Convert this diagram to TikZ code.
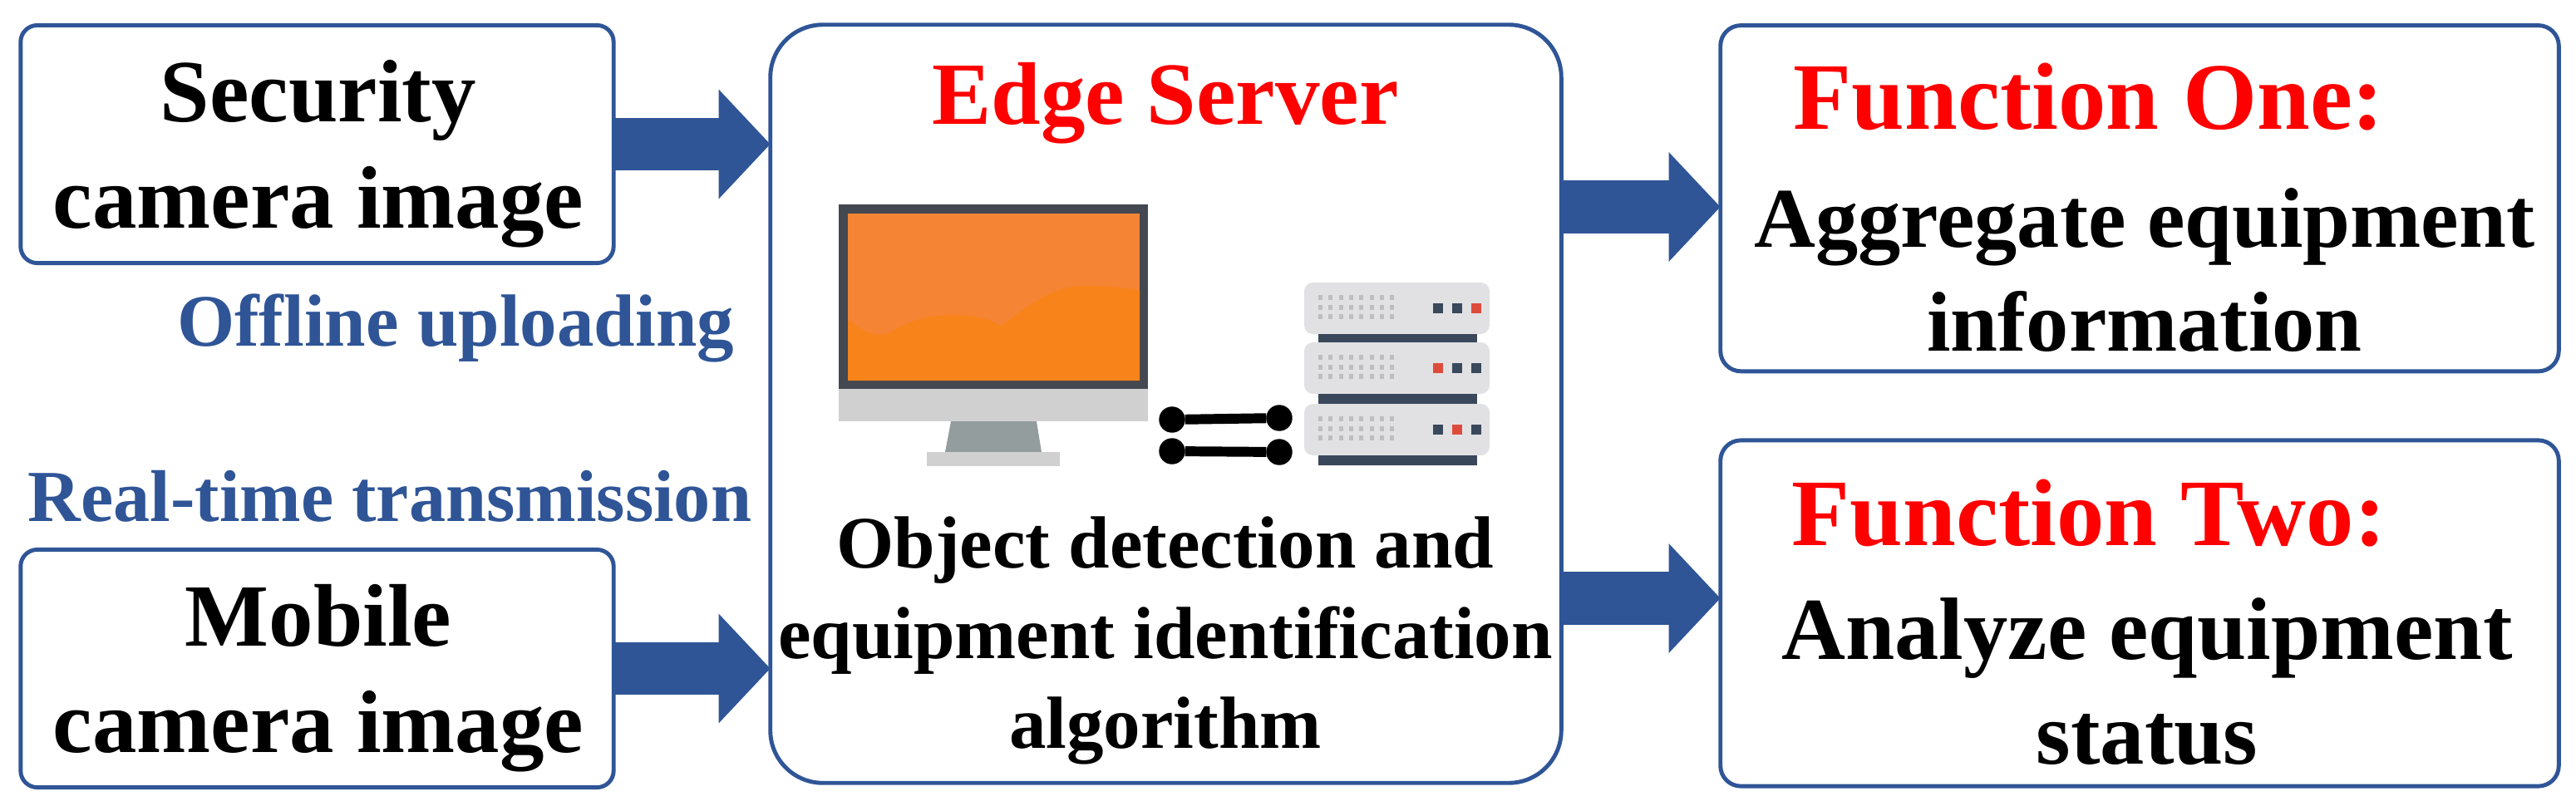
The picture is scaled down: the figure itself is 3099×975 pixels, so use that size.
\documentclass[tikz,border=0pt]{standalone}
\usepackage{fontspec}
\setmainfont{Liberation Serif}
\usetikzlibrary{arrows.meta, positioning, calc}
\definecolor{edgeblue}{RGB}{47,85,151}
\definecolor{titlered}{RGB}{255,0,0}
\definecolor{screenhi}{RGB}{245,133,53}
\definecolor{screenlo}{RGB}{247,131,26}
\definecolor{monframe}{RGB}{68,72,80}
\definecolor{monchin}{RGB}{208,208,208}
\definecolor{monstand}{RGB}{148,157,158}
\definecolor{rackbody}{RGB}{225,225,227}
\definecolor{rackbar}{RGB}{58,72,92}
\definecolor{rackdot}{RGB}{190,190,192}
\definecolor{rackled}{RGB}{222,75,60}
\newcommand{\boxtxt}{\fontsize{30.4}{36.5}\selectfont\bfseries}
\newcommand{\fntxt}{\fontsize{32.6}{38}\selectfont\bfseries}
\newcommand{\algotxt}{\fontsize{25.3}{30.9}\selectfont\bfseries}

\begin{document}
\begin{tikzpicture}[
  x=0.01cm, y=-0.01cm,
  inbox/.style={draw=edgeblue,rounded corners=5.7pt,line width=1.4pt,fill=white,inner sep=0pt,
    outer sep=0pt,minimum width=7.13cm,minimum height=2.86cm},
  fnbox/.style={draw=edgeblue,rounded corners=7pt,line width=1.4pt,fill=white,inner sep=0pt,
    outer sep=0pt,minimum width=10.08cm,minimum height=4.16cm},
  edgebox/.style={draw=edgeblue,rounded corners=18pt,line width=1.4pt,fill=white,inner sep=0pt,
    outer sep=0pt,minimum width=9.51cm,minimum height=9.12cm},
  blockarr/.style={-{Triangle[length=0.62cm,width=1.28cm]},edgeblue,line width=0.635cm},
  redlb/.style={text=titlered,inner sep=0pt},
  boxlb/.style={font=\boxtxt,align=center,inner sep=0pt},
  bluelb/.style={text=edgeblue,inner sep=0pt},
  link/.style={draw=black,fill=black,circle,inner sep=0pt,minimum size=0.3cm},
  linkbar/.style={black,line width=3.4pt}
]
\useasboundingbox (0,0) rectangle (3099,975);

% input boxes
\node[inbox] (sec) at (381.5,173.5) {};
\node[inbox] (mob) at (381.5,804.5) {};
\node[boxlb] (secl) at (383,185) {Security\\camera image};
\node[boxlb] (mobl) at (383,816) {Mobile\\camera image};

% edge server and function boxes
\node[edgebox] (edge) at (1402.5,486) {};
\node[fnbox] (fone) at (2574,238.7) {};
\node[fnbox] (ftwo) at (2574,738) {};

% arrows
\draw[blockarr] (sec.east) -- (sec.east -| edge.west);
\draw[blockarr] (mob.east) -- (mob.east -| edge.west);
\draw[blockarr] (edge.east |- 0,249) -- (fone.west |- 0,249);
\draw[blockarr] (edge.east |- 0,720) -- (ftwo.west |- 0,720);

% labels
\node[bluelb,font=\fontsize{25.3}{30}\selectfont\bfseries] (offl) at (548,395) {Offline uploading};
\node[bluelb,font=\fontsize{25.1}{30}\selectfont\bfseries] (real) at (469,597) {Real-time transmission};
\node[redlb,font=\boxtxt] (etitle) at (1402,124) {Edge Server};
\node[font=\algotxt,align=center,inner sep=0pt] (algo) at (1402,771)
  {Object detection and\\equipment identification\\algorithm};
\node[redlb,font=\fntxt] (fonet) at (2513,117) {Function One:};
\node[font=\fontsize{29.1}{35.4}\selectfont\bfseries,align=center,inner sep=0pt] (fonex) at (2580,325)
  {Aggregate equipment\\information};
\node[redlb,font=\fntxt] (ftwot) at (2513,618) {Function Two:};
\node[font=\fontsize{30.3}{36}\selectfont\bfseries,align=center,inner sep=0pt] (ftwox) at (2583,820)
  {Analyze equipment\\status};

% monitor
\fill[monframe] (1009,246) rectangle (1381,468);
\fill[screenhi] (1020,257) rectangle (1371,458);
\fill[screenlo] (1020,385) .. controls (1040,400) and (1055,408) .. (1075,398)
  .. controls (1110,375) and (1170,372) .. (1205,392)
  .. controls (1240,365) and (1270,342) .. (1310,344)
  .. controls (1340,344) and (1360,347) .. (1371,350)
  -- (1371,458) -- (1020,458) -- cycle;
\fill[monchin] (1009,468) rectangle (1381,507);
\fill[monstand] (1144,507) -- (1247,507) -- (1253,544) -- (1137,544) -- cycle;
\fill[monchin] (1115,544) rectangle (1275,561);

% server rack
\foreach \ry/\ledred in {340/3,412/1,486/2}{
  \fill[rackbody,rounded corners=3pt] (1569,\ry) rectangle ++(223,62);
  \fill[rackbar] (1586,\ry+62) rectangle ++(191,12);
  \foreach \row in {0,1,2}
    \foreach \col in {0,...,7}
      \fill[rackdot] (1586+\col*12.3,\ry+15+\row*11.7) rectangle ++(5,6);
  \foreach \led in {1,2,3}{
    \ifnum\led=\ledred \def\ledcol{rackled}\else \def\ledcol{rackbar}\fi
    \fill[\ledcol] (1701+\led*23,\ry+25) rectangle ++(12,12);
  }
}

% links
\node[link] (la) at (1410,505) {};
\node[link] (lb) at (1539,503) {};
\node[link] (lc) at (1410,543) {};
\node[link] (ld) at (1539,544) {};
\draw[linkbar] (la) -- (lb);
\draw[linkbar] (lc) -- (ld);

\end{tikzpicture}
\end{document}
